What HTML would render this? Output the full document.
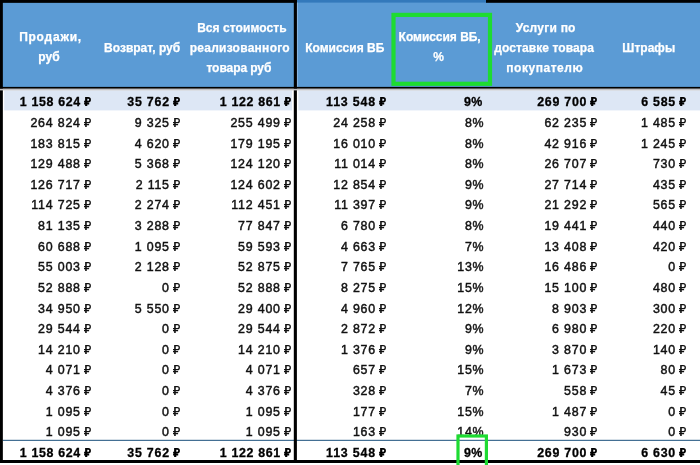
<!DOCTYPE html><html><head><meta charset="utf-8"><title>t</title><style>
html,body{margin:0;padding:0;}
body{width:700px;height:465px;position:relative;overflow:hidden;background:#fff;font-family:"Liberation Sans",sans-serif;}
.abs{position:absolute;}
.hd{position:absolute;-webkit-text-stroke:0.25px #fff;height:20px;text-align:center;color:#fff;font-weight:bold;font-size:12px;line-height:20px;white-space:nowrap;}
.c{position:absolute;-webkit-text-stroke:0.45px #111;white-space:nowrap;font-size:12.4px;line-height:20px;height:20px;letter-spacing:0.8px;color:#111;text-align:right;}
.b{font-weight:bold;color:#000;-webkit-text-stroke:0.3px #000;letter-spacing:0.73px;}
.r{display:inline-block;width:7.0px;height:9.0px;margin-left:3.2px;vertical-align:baseline;}
.r svg{display:block;width:100%;height:100%;overflow:visible;}
</style></head><body>
<svg width="0" height="0" style="position:absolute"><defs><symbol id="rb" viewBox="0 0 70 90" preserveAspectRatio="none"><g fill="none" stroke="#111"><path d="M19.5 90V0" stroke-width="16"/><path d="M19.5 6.5H43a19.75 19.75 0 0 1 0 39.5H0M0 66H51" stroke-width="13"/></g></symbol><symbol id="rbb" viewBox="0 0 70 90" preserveAspectRatio="none"><g fill="none" stroke="#000"><path d="M22 90V0" stroke-width="22"/><path d="M22 8.5H42a18.75 18.75 0 0 1 0 37.5H1M1 66H52" stroke-width="17"/></g></symbol></defs></svg>
<svg class="abs" style="left:0;top:0" width="700" height="465" viewBox="0 0 700 465"><rect x="0" y="0" width="700" height="88" fill="#5B9BD5"/><rect x="296.9" y="0" width="190" height="2.6" fill="#3379BB"/><rect x="296.9" y="2.6" width="1.1" height="84.3" fill="#86B4E0"/><rect x="4.2" y="90.4" width="287.9" height="20" fill="#DDE7F5"/><rect x="298.3" y="90.4" width="402" height="20" fill="#DDE7F5"/><rect x="2.8" y="439.8" width="698" height="1.1" fill="#2F6088"/><g fill="#000"><rect x="0" y="0" width="296.9" height="2.85"/><rect x="486" y="0" width="214" height="2.8"/><rect x="0" y="0" width="2.85" height="463"/><rect x="293.8" y="0" width="3.1" height="463"/><rect x="0" y="86.9" width="700" height="1.85"/><rect x="0" y="460" width="700" height="3"/></g><rect x="0" y="88.8" width="700" height="1.6" fill="#C2C2C6"/></svg>
<div class="abs" style="left:0;top:0;width:700px;height:465px;will-change:transform">
<div class="hd" style="left:3.65px;width:93.77px;top:27px;letter-spacing:0.77px">Продажи,</div>
<div class="hd" style="left:2.50px;width:93.00px;top:47px;letter-spacing:0.0px">руб</div>
<div class="hd" style="left:96.15px;width:92.00px;top:38px;letter-spacing:0.0px">Возврат, руб</div>
<div class="hd" style="left:188.86px;width:106.07px;top:18px;letter-spacing:0.07px">Вся стоимость</div>
<div class="hd" style="left:186.70px;width:106.26px;top:38px;letter-spacing:0.26px">реализованного</div>
<div class="hd" style="left:185.94px;width:105.93px;top:58px;letter-spacing:-0.07px">товара руб</div>
<div class="hd" style="left:297.26px;width:95.00px;top:38px;letter-spacing:0.0px">Комиссия ВБ</div>
<div class="hd" style="left:392.17px;width:94.97px;top:27px;letter-spacing:-0.03px">Комиссия ВБ,</div>
<div class="hd" style="left:391.00px;width:95.30px;top:47px;letter-spacing:0.3px">%</div>
<div class="hd" style="left:488.10px;width:115.24px;top:18px;letter-spacing:0.24px">Услуги по</div>
<div class="hd" style="left:486.65px;width:115.09px;top:38px;letter-spacing:0.09px">доставке товара</div>
<div class="hd" style="left:487.00px;width:115.53px;top:58px;letter-spacing:0.53px">покупателю</div>
<div class="hd" style="left:602.26px;width:93.02px;top:38px;letter-spacing:0.02px">Штрафы</div>
</div>
<div class="abs" style="left:0;top:0;width:700px;height:465px;will-change:transform">
<div class="c b" style="right:609.00px;top:92.00px;letter-spacing:0.66px">1 158 624<span class="r"><svg><use href="#rbb"/></svg></span></div>
<div class="c b" style="right:520.00px;top:92.00px;letter-spacing:0.78px">35 762<span class="r"><svg><use href="#rbb"/></svg></span></div>
<div class="c b" style="right:409.00px;top:92.00px;letter-spacing:0.65px">1 122 861<span class="r"><svg><use href="#rbb"/></svg></span></div>
<div class="c b" style="right:313.85px;top:92.00px;letter-spacing:0.82px">113 548<span class="r"><svg><use href="#rbb"/></svg></span></div>
<div class="c b" style="right:217.40px;top:92.00px;letter-spacing:0.4px">9%</div>
<div class="c b" style="right:102.70px;top:92.00px;letter-spacing:0.73px">269 700<span class="r"><svg><use href="#rbb"/></svg></span></div>
<div class="c b" style="right:13.85px;top:92.00px;letter-spacing:0.73px">6 585<span class="r"><svg><use href="#rbb"/></svg></span></div>
<div class="c" style="right:609.00px;top:113.00px">264 824<span class="r"><svg><use href="#rb"/></svg></span></div>
<div class="c" style="right:520.00px;top:113.00px">9 325<span class="r"><svg><use href="#rb"/></svg></span></div>
<div class="c" style="right:409.00px;top:113.00px">255 499<span class="r"><svg><use href="#rb"/></svg></span></div>
<div class="c" style="right:313.85px;top:113.00px">24 258<span class="r"><svg><use href="#rb"/></svg></span></div>
<div class="c" style="right:215.60px;top:113.00px">8%</div>
<div class="c" style="right:102.70px;top:113.00px">62 235<span class="r"><svg><use href="#rb"/></svg></span></div>
<div class="c" style="right:13.85px;top:113.00px">1 485<span class="r"><svg><use href="#rb"/></svg></span></div>
<div class="c" style="right:609.00px;top:134.00px">183 815<span class="r"><svg><use href="#rb"/></svg></span></div>
<div class="c" style="right:520.00px;top:134.00px">4 620<span class="r"><svg><use href="#rb"/></svg></span></div>
<div class="c" style="right:409.00px;top:134.00px">179 195<span class="r"><svg><use href="#rb"/></svg></span></div>
<div class="c" style="right:313.85px;top:134.00px">16 010<span class="r"><svg><use href="#rb"/></svg></span></div>
<div class="c" style="right:215.60px;top:134.00px">8%</div>
<div class="c" style="right:102.70px;top:134.00px">42 916<span class="r"><svg><use href="#rb"/></svg></span></div>
<div class="c" style="right:13.85px;top:134.00px">1 245<span class="r"><svg><use href="#rb"/></svg></span></div>
<div class="c" style="right:609.00px;top:154.00px">129 488<span class="r"><svg><use href="#rb"/></svg></span></div>
<div class="c" style="right:520.00px;top:154.00px">5 368<span class="r"><svg><use href="#rb"/></svg></span></div>
<div class="c" style="right:409.00px;top:154.00px">124 120<span class="r"><svg><use href="#rb"/></svg></span></div>
<div class="c" style="right:313.85px;top:154.00px">11 014<span class="r"><svg><use href="#rb"/></svg></span></div>
<div class="c" style="right:215.60px;top:154.00px">8%</div>
<div class="c" style="right:102.70px;top:154.00px">26 707<span class="r"><svg><use href="#rb"/></svg></span></div>
<div class="c" style="right:13.85px;top:154.00px">730<span class="r"><svg><use href="#rb"/></svg></span></div>
<div class="c" style="right:609.00px;top:175.00px">126 717<span class="r"><svg><use href="#rb"/></svg></span></div>
<div class="c" style="right:520.00px;top:175.00px">2 115<span class="r"><svg><use href="#rb"/></svg></span></div>
<div class="c" style="right:409.00px;top:175.00px">124 602<span class="r"><svg><use href="#rb"/></svg></span></div>
<div class="c" style="right:313.85px;top:175.00px">12 854<span class="r"><svg><use href="#rb"/></svg></span></div>
<div class="c" style="right:215.60px;top:175.00px">9%</div>
<div class="c" style="right:102.70px;top:175.00px">27 714<span class="r"><svg><use href="#rb"/></svg></span></div>
<div class="c" style="right:13.85px;top:175.00px">435<span class="r"><svg><use href="#rb"/></svg></span></div>
<div class="c" style="right:609.00px;top:195.00px">114 725<span class="r"><svg><use href="#rb"/></svg></span></div>
<div class="c" style="right:520.00px;top:195.00px">2 274<span class="r"><svg><use href="#rb"/></svg></span></div>
<div class="c" style="right:409.00px;top:195.00px">112 451<span class="r"><svg><use href="#rb"/></svg></span></div>
<div class="c" style="right:313.85px;top:195.00px">11 397<span class="r"><svg><use href="#rb"/></svg></span></div>
<div class="c" style="right:215.60px;top:195.00px">9%</div>
<div class="c" style="right:102.70px;top:195.00px">21 292<span class="r"><svg><use href="#rb"/></svg></span></div>
<div class="c" style="right:13.85px;top:195.00px">565<span class="r"><svg><use href="#rb"/></svg></span></div>
<div class="c" style="right:609.00px;top:216.00px">81 135<span class="r"><svg><use href="#rb"/></svg></span></div>
<div class="c" style="right:520.00px;top:216.00px">3 288<span class="r"><svg><use href="#rb"/></svg></span></div>
<div class="c" style="right:409.00px;top:216.00px">77 847<span class="r"><svg><use href="#rb"/></svg></span></div>
<div class="c" style="right:313.85px;top:216.00px">6 780<span class="r"><svg><use href="#rb"/></svg></span></div>
<div class="c" style="right:215.60px;top:216.00px">8%</div>
<div class="c" style="right:102.70px;top:216.00px">19 441<span class="r"><svg><use href="#rb"/></svg></span></div>
<div class="c" style="right:13.85px;top:216.00px">440<span class="r"><svg><use href="#rb"/></svg></span></div>
<div class="c" style="right:609.00px;top:237.00px">60 688<span class="r"><svg><use href="#rb"/></svg></span></div>
<div class="c" style="right:520.00px;top:237.00px">1 095<span class="r"><svg><use href="#rb"/></svg></span></div>
<div class="c" style="right:409.00px;top:237.00px">59 593<span class="r"><svg><use href="#rb"/></svg></span></div>
<div class="c" style="right:313.85px;top:237.00px">4 663<span class="r"><svg><use href="#rb"/></svg></span></div>
<div class="c" style="right:215.60px;top:237.00px">7%</div>
<div class="c" style="right:102.70px;top:237.00px">13 408<span class="r"><svg><use href="#rb"/></svg></span></div>
<div class="c" style="right:13.85px;top:237.00px">420<span class="r"><svg><use href="#rb"/></svg></span></div>
<div class="c" style="right:609.00px;top:257.00px">55 003<span class="r"><svg><use href="#rb"/></svg></span></div>
<div class="c" style="right:520.00px;top:257.00px">2 128<span class="r"><svg><use href="#rb"/></svg></span></div>
<div class="c" style="right:409.00px;top:257.00px">52 875<span class="r"><svg><use href="#rb"/></svg></span></div>
<div class="c" style="right:313.85px;top:257.00px">7 765<span class="r"><svg><use href="#rb"/></svg></span></div>
<div class="c" style="right:215.60px;top:257.00px">13%</div>
<div class="c" style="right:102.70px;top:257.00px">16 486<span class="r"><svg><use href="#rb"/></svg></span></div>
<div class="c" style="right:13.85px;top:257.00px">0<span class="r"><svg><use href="#rb"/></svg></span></div>
<div class="c" style="right:609.00px;top:278.00px">52 888<span class="r"><svg><use href="#rb"/></svg></span></div>
<div class="c" style="right:520.00px;top:278.00px">0<span class="r"><svg><use href="#rb"/></svg></span></div>
<div class="c" style="right:409.00px;top:278.00px">52 888<span class="r"><svg><use href="#rb"/></svg></span></div>
<div class="c" style="right:313.85px;top:278.00px">8 275<span class="r"><svg><use href="#rb"/></svg></span></div>
<div class="c" style="right:215.60px;top:278.00px">15%</div>
<div class="c" style="right:102.70px;top:278.00px">15 100<span class="r"><svg><use href="#rb"/></svg></span></div>
<div class="c" style="right:13.85px;top:278.00px">480<span class="r"><svg><use href="#rb"/></svg></span></div>
<div class="c" style="right:609.00px;top:299.00px">34 950<span class="r"><svg><use href="#rb"/></svg></span></div>
<div class="c" style="right:520.00px;top:299.00px">5 550<span class="r"><svg><use href="#rb"/></svg></span></div>
<div class="c" style="right:409.00px;top:299.00px">29 400<span class="r"><svg><use href="#rb"/></svg></span></div>
<div class="c" style="right:313.85px;top:299.00px">4 960<span class="r"><svg><use href="#rb"/></svg></span></div>
<div class="c" style="right:215.60px;top:299.00px">12%</div>
<div class="c" style="right:102.70px;top:299.00px">8 903<span class="r"><svg><use href="#rb"/></svg></span></div>
<div class="c" style="right:13.85px;top:299.00px">300<span class="r"><svg><use href="#rb"/></svg></span></div>
<div class="c" style="right:609.00px;top:319.00px">29 544<span class="r"><svg><use href="#rb"/></svg></span></div>
<div class="c" style="right:520.00px;top:319.00px">0<span class="r"><svg><use href="#rb"/></svg></span></div>
<div class="c" style="right:409.00px;top:319.00px">29 544<span class="r"><svg><use href="#rb"/></svg></span></div>
<div class="c" style="right:313.85px;top:319.00px">2 872<span class="r"><svg><use href="#rb"/></svg></span></div>
<div class="c" style="right:215.60px;top:319.00px">9%</div>
<div class="c" style="right:102.70px;top:319.00px">6 980<span class="r"><svg><use href="#rb"/></svg></span></div>
<div class="c" style="right:13.85px;top:319.00px">220<span class="r"><svg><use href="#rb"/></svg></span></div>
<div class="c" style="right:609.00px;top:340.00px">14 210<span class="r"><svg><use href="#rb"/></svg></span></div>
<div class="c" style="right:520.00px;top:340.00px">0<span class="r"><svg><use href="#rb"/></svg></span></div>
<div class="c" style="right:409.00px;top:340.00px">14 210<span class="r"><svg><use href="#rb"/></svg></span></div>
<div class="c" style="right:313.85px;top:340.00px">1 376<span class="r"><svg><use href="#rb"/></svg></span></div>
<div class="c" style="right:215.60px;top:340.00px">9%</div>
<div class="c" style="right:102.70px;top:340.00px">3 870<span class="r"><svg><use href="#rb"/></svg></span></div>
<div class="c" style="right:13.85px;top:340.00px">140<span class="r"><svg><use href="#rb"/></svg></span></div>
<div class="c" style="right:609.00px;top:360.00px">4 071<span class="r"><svg><use href="#rb"/></svg></span></div>
<div class="c" style="right:520.00px;top:360.00px">0<span class="r"><svg><use href="#rb"/></svg></span></div>
<div class="c" style="right:409.00px;top:360.00px">4 071<span class="r"><svg><use href="#rb"/></svg></span></div>
<div class="c" style="right:313.85px;top:360.00px">657<span class="r"><svg><use href="#rb"/></svg></span></div>
<div class="c" style="right:215.60px;top:360.00px">15%</div>
<div class="c" style="right:102.70px;top:360.00px">1 673<span class="r"><svg><use href="#rb"/></svg></span></div>
<div class="c" style="right:13.85px;top:360.00px">80<span class="r"><svg><use href="#rb"/></svg></span></div>
<div class="c" style="right:609.00px;top:381.00px">4 376<span class="r"><svg><use href="#rb"/></svg></span></div>
<div class="c" style="right:520.00px;top:381.00px">0<span class="r"><svg><use href="#rb"/></svg></span></div>
<div class="c" style="right:409.00px;top:381.00px">4 376<span class="r"><svg><use href="#rb"/></svg></span></div>
<div class="c" style="right:313.85px;top:381.00px">328<span class="r"><svg><use href="#rb"/></svg></span></div>
<div class="c" style="right:215.60px;top:381.00px">7%</div>
<div class="c" style="right:102.70px;top:381.00px">558<span class="r"><svg><use href="#rb"/></svg></span></div>
<div class="c" style="right:13.85px;top:381.00px">45<span class="r"><svg><use href="#rb"/></svg></span></div>
<div class="c" style="right:609.00px;top:402.00px">1 095<span class="r"><svg><use href="#rb"/></svg></span></div>
<div class="c" style="right:520.00px;top:402.00px">0<span class="r"><svg><use href="#rb"/></svg></span></div>
<div class="c" style="right:409.00px;top:402.00px">1 095<span class="r"><svg><use href="#rb"/></svg></span></div>
<div class="c" style="right:313.85px;top:402.00px">177<span class="r"><svg><use href="#rb"/></svg></span></div>
<div class="c" style="right:215.60px;top:402.00px">15%</div>
<div class="c" style="right:102.70px;top:402.00px">1 487<span class="r"><svg><use href="#rb"/></svg></span></div>
<div class="c" style="right:13.85px;top:402.00px">0<span class="r"><svg><use href="#rb"/></svg></span></div>
<div class="c" style="right:609.00px;top:422.00px">1 095<span class="r"><svg><use href="#rb"/></svg></span></div>
<div class="c" style="right:520.00px;top:422.00px">0<span class="r"><svg><use href="#rb"/></svg></span></div>
<div class="c" style="right:409.00px;top:422.00px">1 095<span class="r"><svg><use href="#rb"/></svg></span></div>
<div class="c" style="right:313.85px;top:422.00px">163<span class="r"><svg><use href="#rb"/></svg></span></div>
<div class="c" style="right:215.60px;top:422.00px">14%</div>
<div class="c" style="right:102.70px;top:422.00px">930<span class="r"><svg><use href="#rb"/></svg></span></div>
<div class="c" style="right:13.85px;top:422.00px">0<span class="r"><svg><use href="#rb"/></svg></span></div>
<div class="c b" style="right:609.00px;top:443.00px;letter-spacing:0.66px">1 158 624<span class="r"><svg><use href="#rbb"/></svg></span></div>
<div class="c b" style="right:520.00px;top:443.00px;letter-spacing:0.78px">35 762<span class="r"><svg><use href="#rbb"/></svg></span></div>
<div class="c b" style="right:409.00px;top:443.00px;letter-spacing:0.65px">1 122 861<span class="r"><svg><use href="#rbb"/></svg></span></div>
<div class="c b" style="right:313.85px;top:443.00px;letter-spacing:0.82px">113 548<span class="r"><svg><use href="#rbb"/></svg></span></div>
<div class="c b" style="right:217.40px;top:443.00px;letter-spacing:0.4px">9%</div>
<div class="c b" style="right:102.70px;top:443.00px;letter-spacing:0.73px">269 700<span class="r"><svg><use href="#rbb"/></svg></span></div>
<div class="c b" style="right:13.85px;top:443.00px;letter-spacing:0.73px">6 630<span class="r"><svg><use href="#rbb"/></svg></span></div>
</div>
<svg class="abs" style="left:0;top:0" width="700" height="465" viewBox="0 0 700 465"><g fill="none" stroke="#1EDB32"><rect x="393.5" y="14.9" width="96.5" height="68.9" stroke-width="4.2"/><rect x="458" y="436" width="28.4" height="40" stroke-width="3.2"/></g></svg>
</body></html>
